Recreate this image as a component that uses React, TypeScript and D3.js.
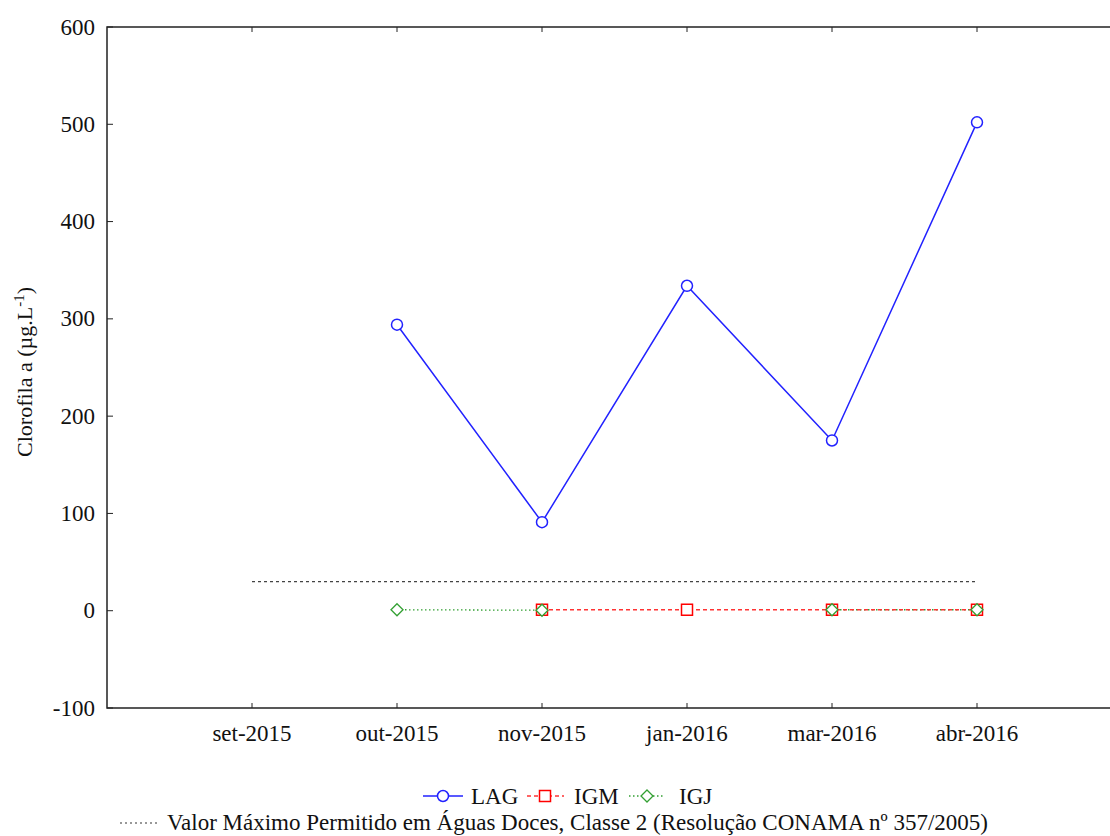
import React from 'react';
import * as d3 from 'd3';

// Sampling dates (x categories)
const months = ['set-2015', 'out-2015', 'nov-2015', 'jan-2016', 'mar-2016', 'abr-2016'];

// Clorofila a (µg/L) per site, null = no sample
const lag: (number | null)[] = [null, 294, 91, 334, 175, 502];
const igm: (number | null)[] = [null, null, 1, 1, 1, 1];
const igj: (number | null)[] = [null, 1, 0.5, null, 1, 1];

const yTicks = [-100, 0, 100, 200, 300, 400, 500, 600];
const limitValue = 30; // CONAMA 357/2005, classe 2

const W = 1110;
const H = 836;
const serif = '"Liberation Serif", "Times New Roman", serif';

const x = d3.scaleLinear().domain([-1, 6]).range([107, 1122]);
const y = d3.scaleLinear().domain([-100, 600]).range([708, 27]);

type Pt = { i: number; v: number | null };
const toPts = (arr: (number | null)[]): Pt[] => arr.map((v, i) => ({ i, v }));

const line = d3.line<Pt>()
    .defined(d => d.v !== null)
    .x(d => x(d.i))
    .y(d => y(d.v as number));

function Circle({ cx, cy }: { cx: number; cy: number }) {
    return <circle cx={cx} cy={cy} r={5.5} fill="white" stroke="#2222ff" strokeWidth={1.5} />;
}
function Square({ cx, cy }: { cx: number; cy: number }) {
    return <rect x={cx - 5.5} y={cy - 5.5} width={11} height={11} fill="white" stroke="#ff0000" strokeWidth={1.5} />;
}
function Diamond({ cx, cy }: { cx: number; cy: number }) {
    const s = 6;
    return <path d={`M${cx},${cy - s}L${cx + s},${cy}L${cx},${cy + s}L${cx - s},${cy}Z`} fill="white" stroke="#33a033" strokeWidth={1.3} />;
}

export default function App() {
    const lagPts = toPts(lag);
    const igmPts = toPts(igm);
    const igjPts = toPts(igj);

    return (
        <div style={{ position: 'absolute', left: 0, top: 0 }}>
            <svg width={W} height={H} style={{ display: 'block', background: 'white' }}>
                {/* frame */}
                <path d={`M${W},27H107V708H${W}`} fill="none" stroke="#222" strokeWidth={1.5} />

                {/* y axis ticks (inside) */}
                {yTicks.map(t => (
                    <g key={t}>
                        <line x1={107} x2={113} y1={y(t)} y2={y(t)} stroke="#222" strokeWidth={1} />
                        <text x={95} y={y(t)} dy="0.33em" textAnchor="end" fontFamily={serif} fontSize={23} fill="#111">{t}</text>
                    </g>
                ))}

                {/* x axis ticks (inside, bottom and top) */}
                {months.map((m, i) => (
                    <g key={m}>
                        <line x1={x(i)} x2={x(i)} y1={708} y2={703} stroke="#222" />
                        <line x1={x(i)} x2={x(i)} y1={27} y2={32} stroke="#222" />
                        <text x={x(i)} y={741} textAnchor="middle" fontFamily={serif} fontSize={23} fill="#111">{m}</text>
                    </g>
                ))}

                {/* y axis label */}
                <text transform="translate(32,372) rotate(-90)" textAnchor="middle" fontFamily={serif} fontSize={22} fill="#111">
                    Clorofila a (µg.L<tspan dy={-8} fontSize={15}>-1</tspan><tspan dy={8}>)</tspan>
                </text>

                {/* limit line */}
                <line x1={x(0)} x2={x(5)} y1={y(limitValue)} y2={y(limitValue)} stroke="#444" strokeWidth={1.2} strokeDasharray="3,3" />

                {/* series lines */}
                <path d={line(igjPts) ?? ''} fill="none" stroke="#33a033" strokeWidth={1.3} strokeDasharray="1.5,2.5" />
                <path d={line(igmPts) ?? ''} fill="none" stroke="#ff3333" strokeWidth={1.3} strokeDasharray="4,3" />
                <path d={line(lagPts) ?? ''} fill="none" stroke="#2222ff" strokeWidth={1.5} />

                {/* markers */}
                {igmPts.filter(d => d.v !== null).map(d => <Square key={d.i} cx={x(d.i)} cy={y(d.v as number)} />)}
                {igjPts.filter(d => d.v !== null).map(d => <Diamond key={d.i} cx={x(d.i)} cy={y(d.v as number)} />)}
                {lagPts.filter(d => d.v !== null).map(d => <Circle key={d.i} cx={x(d.i)} cy={y(d.v as number)} />)}

                {/* legend row 1 */}
                <g fontFamily={serif} fontSize={23} fill="#111">
                    <line x1={423} x2={463} y1={796} y2={796} stroke="#2222ff" strokeWidth={1.5} />
                    <Circle cx={443} cy={796} />
                    <text x={471} y={804}>LAG</text>
                    <line x1={527} x2={564} y1={796} y2={796} stroke="#ff3333" strokeWidth={1.3} strokeDasharray="4,3" />
                    <Square cx={545} cy={796} />
                    <text x={574} y={804}>IGM</text>
                    <line x1={629} x2={665} y1={796} y2={796} stroke="#33a033" strokeWidth={1.3} strokeDasharray="1.5,2.5" />
                    <Diamond cx={647} cy={796} />
                    <text x={679} y={804}>IGJ</text>
                </g>

                {/* legend row 2 */}
                <line x1={120} x2={158} y1={823} y2={823} stroke="#333" strokeWidth={1.2} strokeDasharray="2,3" />
                <text x={167} y={830} fontFamily={serif} fontSize={23} fill="#111">
                    Valor Máximo Permitido em Águas Doces, Classe 2 (Resolução CONAMA nº 357/2005)
                </text>
            </svg>
        </div>
    );
}
